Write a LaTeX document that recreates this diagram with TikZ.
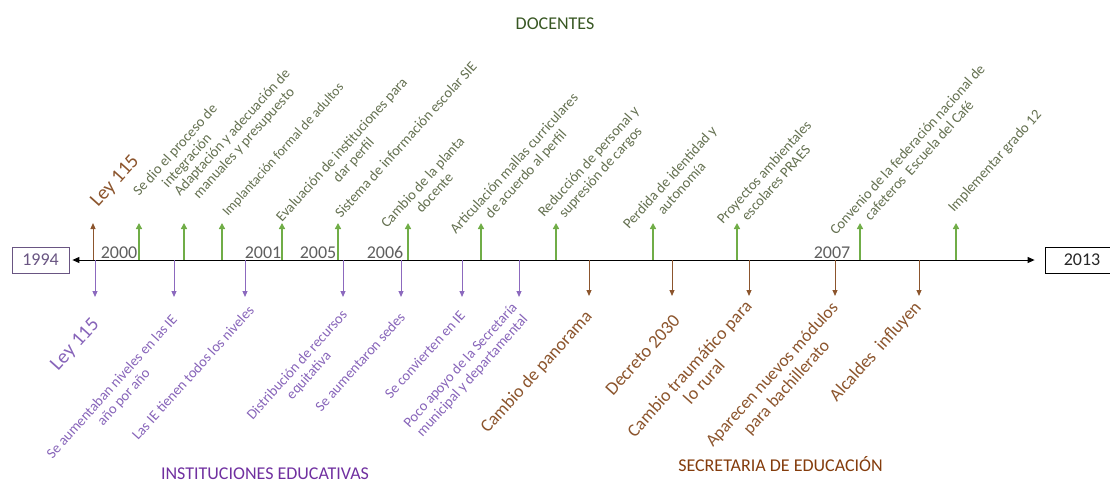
\documentclass[tikz,border=0pt]{standalone}
\usepackage{fontspec}
\setmainfont{Carlito}
\usetikzlibrary{arrows.meta}
\definecolor{garr}{RGB}{112,173,71}
\definecolor{gtxt}{RGB}{100,112,80}
\definecolor{brn}{RGB}{140,85,45}
\definecolor{brnh}{RGB}{132,60,12}
\definecolor{pur}{RGB}{140,105,190}
\definecolor{purt}{RGB}{135,100,185}
\definecolor{purh}{RGB}{112,48,160}
\definecolor{dgreen}{RGB}{56,87,35}
\definecolor{yr}{RGB}{95,95,95}
\definecolor{boxp}{RGB}{105,85,130}
\newcommand{\twol}[1]{\begin{tabular}[t]{@{}c@{}}#1\end{tabular}}
\begin{document}
\begin{tikzpicture}[x=1pt,y=-1pt,
  garrow/.style={draw=garr,line width=1.8pt,-{Triangle[width=6pt,length=6pt]}},
  barrow/.style={draw=brn,line width=1pt,-{Triangle[width=5pt,length=6pt]}},
  parrow/.style={draw=pur,line width=1pt,-{Triangle[width=5pt,length=6pt]}},
  lblT/.style={rotate=48,anchor=base west,inner sep=0pt,font=\fontsize{14.5}{15.8}\selectfont,text=gtxt},
  lblP/.style={rotate=48,anchor=base east,inner sep=0pt,font=\fontsize{14.5}{15.8}\selectfont,text=purt},
  lblB/.style={rotate=48,anchor=base east,inner sep=0pt,font=\fontsize{18}{19.5}\selectfont,text=brn},
  big/.style={font=\fontsize{20}{22}\selectfont},
  year/.style={anchor=base,inner sep=0pt,font=\fontsize{18}{21}\selectfont,text=yr},
  head/.style={anchor=base,inner sep=0pt,font=\fontsize{18}{21}\selectfont},
  yearbox/.style={draw,line width=0.8pt,inner sep=0pt,minimum height=26pt,font=\fontsize{18}{21}\selectfont}
]
\useasboundingbox (0,0) rectangle (1110,482);

% end boxes and axis
\node[yearbox,draw=boxp,text=boxp,minimum width=57pt] (b1994) at (40.5,260) {1994};
\node[yearbox,draw=black,text=black!85,minimum width=74pt] (b2013) at (1082,260) {2013};
\draw[line width=1pt,{Triangle[width=6pt,length=7pt]}-{Triangle[width=6pt,length=7pt]},shorten <=3pt,shorten >=10pt] (b1994.east) -- (b2013.west);

% upward green arrows
\foreach \i/\x in {1/139,2/184,3/222,4/282,5/338,6/408,7/481,8/556,9/653,10/737,11/860,12/956}{
  \coordinate (ga\i) at (\x,260);
  \coordinate (gt\i) at (\x,223);
  \draw[garrow] (ga\i) -- (gt\i);
}
% upward brown arrow
\coordinate (ba0) at (93,260);
\coordinate (bt0) at (93,223);
\draw[barrow] (ba0) -- (bt0);

% downward purple arrows
\foreach \i/\x in {1/95,2/174,3/245,4/343,5/401,6/462,7/519}{
  \coordinate (pa\i) at (\x,260);
  \coordinate (pt\i) at (\x,297);
  \draw[parrow] (pa\i) -- (pt\i);
}
% downward brown arrows
\foreach \i/\x in {1/589,2/672,3/749,4/835,5/919}{
  \coordinate (sa\i) at (\x,260);
  \coordinate (st\i) at (\x,296);
  \draw[barrow] (sa\i) -- (st\i);
}

% years
\node[year] (y2000) at (119,258) {2000};
\node[year] (y2001) at (263,258) {2001};
\node[year] (y2005) at (318,258) {2005};
\node[year] (y2006) at (385,258) {2006};
\node[year] (y2007) at (832,258) {2007};

% headings
\node[head,text=dgreen] (hdoc) at (555,29) {DOCENTES};
\node[head,text=purh] (hinst) at (265,479) {INSTITUCIONES EDUCATIVAS};
\node[head,text=brnh] (hsec) at (780.5,471) {SECRETARIA DE EDUCACIÓN};

% top labels (docentes)
\node[lblT,big,text=brn] (t0) at (98,208) {Ley 115};
\node[lblT] (t1) at (139,197) {\twol{Se dio el proceso de\\integración}};
\node[lblT] (t2) at (180,197) {\twol{Adaptación y adecuación de\\manuales y presupuesto}};
\node[lblT,font=\fontsize{13.7}{15}\selectfont] (t3) at (228,217) {Implantación formal de adultos};
\node[lblT] (t4) at (282,223) {\twol{Evaluación de instituciones para\\dar perfil}};
\node[lblT] (t5) at (341,219) {Sistema de información escolar SIE};
\node[lblT] (t6) at (387,229) {\twol{Cambio de la planta\\docente}};
\node[lblT] (t7) at (456,235) {\twol{Articulación mallas curriculares\\de acuerdo al perfil}};
\node[lblT] (t8) at (544,218) {\twol{Reducción de personal y\\supresión de cargos}};
\node[lblT] (t9) at (629,230) {\twol{Perdida de identidad y\\autonomía}};
\node[lblT] (t10) at (723,225) {\twol{Proyectos ambientales\\escolares PRAES}};
\node[lblT] (t11) at (836,236) {\twol{Convenio de la federación nacional de\\cafeteros\ \ Escuela del Café}};
\node[lblT] (t12) at (954,213) {Implementar grado 12};

% bottom labels (instituciones)
\node[lblP,big] (p1) at (100,325) {Ley 115};
\node[lblP] (p2) at (178,320) {\twol{Se aumentaban niveles en las IE\\año por año}};
\node[lblP] (p3) at (255,311) {Las IE tienen todos los niveles};
\node[lblP] (p4) at (348,315) {\twol{Distribución de recursos\\equitativa}};
\node[lblP] (p5) at (406,318) {Se aumentaron sedes};
\node[lblP] (p6) at (466,316) {Se convierten en IE};
\node[lblP] (p7) at (518,308) {\twol{Poco apoyo de la Secretaría\\municipal y departamental}};

% bottom labels (secretaria)
\node[lblB] (s1) at (593,317) {Cambio de panorama};
\node[lblB,font=\fontsize{18.5}{20}\selectfont] (s2) at (681,321) {Decreto 2030};
\node[lblB] (s3) at (753,307) {\twol{Cambio traumático para\\lo rural}};
\node[lblB,font=\fontsize{17.5}{19.5}\selectfont] (s4) at (839,308) {\twol{Aparecen nuevos módulos\\para bachillerato}};
\node[lblB] (s5) at (922,308) {Alcaldes\ \ influyen};
\end{tikzpicture}
\end{document}
